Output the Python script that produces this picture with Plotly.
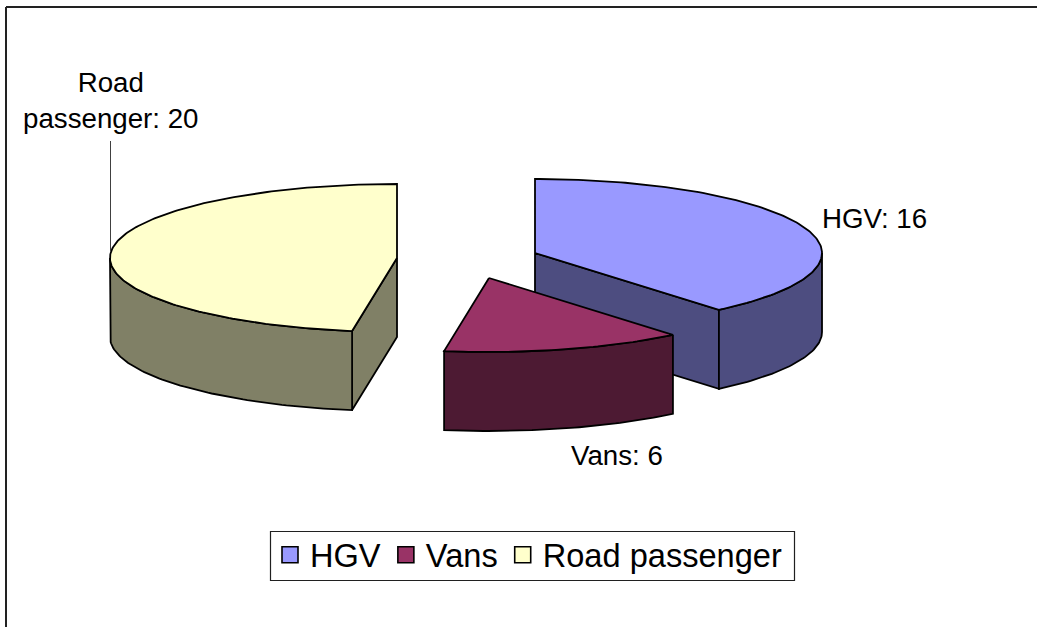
import numpy as np
import plotly.graph_objects as go

# Data (labels show the values rounded; slice sizes)
categories = ["HGV", "Vans", "Road passenger"]
values = [16.35, 5.7, 19.95]

# Style
top_colors = ["#9999FF", "#993366", "#FFFFCC"]
side_colors = ["#4D4D80", "#4D1A33", "#808066"]

# 3D-pie projection (chart pixel space)
W, H = 1037, 627
RX, RY, DEPTH = 287, 74, 79
centers = [(535, 253), (489, 278), (397, 258)]
FONT = "Liberation Sans, Arial, sans-serif"


def pt(c, theta, dz=0):
    return (c[0] + RX * np.sin(theta), c[1] - RY * np.cos(theta) + dz)


def arc(c, a0, a1, dz=0):
    n = max(int(abs(a1 - a0) * 60), 3)
    t = np.linspace(a0, a1, n)
    return c[0] + RX * np.sin(t), c[1] - RY * np.cos(t) + dz


fractions = np.array(values) / sum(values)
edges = np.concatenate([[0], np.cumsum(fractions)]) * 2 * np.pi

fig = go.Figure()


def poly(xs, ys, color):
    fig.add_trace(go.Scatter(
        x=list(xs) + [xs[0]], y=list(ys) + [ys[0]], mode="lines", fill="toself",
        fillcolor=color, line=dict(color="black", width=1.8),
        hoverinfo="skip", showlegend=False))


for i in [2, 0, 1]:
    c = centers[i]
    a0, a1 = edges[i], edges[i + 1]
    # radial face at the slice's end where it looks towards the viewer
    if i in (0, 2):
        edge = a1 if i == 0 else a0
        p = pt(c, edge)
        poly([c[0], p[0], p[0], c[0]], [c[1], p[1], p[1] + DEPTH, c[1] + DEPTH], side_colors[i])
    # outer wall: only the front half of the ellipse
    w0, w1 = max(a0, np.pi / 2), min(a1, 3 * np.pi / 2)
    if w1 > w0:
        tx, ty = arc(c, w0, w1)
        bx, by = arc(c, w1, w0, DEPTH)
        poly(np.concatenate([tx, bx]), np.concatenate([ty, by]), side_colors[i])
    # top face
    ax, ay = arc(c, a0, a1)
    poly(np.concatenate([[c[0]], ax]), np.concatenate([[c[1]], ay]), top_colors[i])

# legend entries
for name, color in zip(categories, top_colors):
    fig.add_trace(go.Scatter(
        x=[None], y=[None], mode="markers", name=name,
        marker=dict(symbol="square", size=17, color=color, line=dict(color="black", width=1.6))))

# data labels
label_pos = [(874, 218), (617, 455), (110, 100)]
label_text = [f"{n}: {round(v)}" for n, v in zip(categories, values)]
label_text[2] = label_text[2].replace("Road passenger", "Road<br>passenger")
for (x, y), t in zip(label_pos, label_text):
    fig.add_annotation(x=x, y=y, text=t, showarrow=False, align="center",
                       font=dict(family=FONT, size=27.7, color="black"))

# leader line for the road passenger label
fig.add_shape(type="line", x0=110.5, x1=110.5, y0=252, y1=141, line=dict(color="#404040", width=1))
# chart area border (top and left only are in frame)
fig.add_shape(type="line", xref="paper", yref="paper", x0=6 / W, x1=1, y0=1 - 7 / H, y1=1 - 7 / H,
              line=dict(color="#222222", width=2))
fig.add_shape(type="line", xref="paper", yref="paper", x0=6 / W, x1=6 / W, y0=1 - 7 / H, y1=0,
              line=dict(color="#222222", width=2))
# legend frame
fig.add_shape(type="rect", x0=270.5, x1=794.5, y0=531.5, y1=580.5, line=dict(color="#202020", width=1.2))

fig.update_layout(
    width=W, height=H, margin=dict(l=0, r=0, t=0, b=0), autosize=False,
    paper_bgcolor="white", plot_bgcolor="white",
    xaxis=dict(range=[0, W], visible=False, fixedrange=True),
    yaxis=dict(range=[H, 0], visible=False, fixedrange=True),
    legend=dict(orientation="h", x=270 / W, y=1 - 527 / H, xanchor="left", yanchor="top",
                bgcolor="rgba(0,0,0,0)", borderwidth=0,
                font=dict(family=FONT, size=32.6, color="black")),
)
fig.write_html("out.html", config={"displayModeBar": False},
               post_script="document.body.style.margin='0';document.documentElement.style.overflow='hidden';")
